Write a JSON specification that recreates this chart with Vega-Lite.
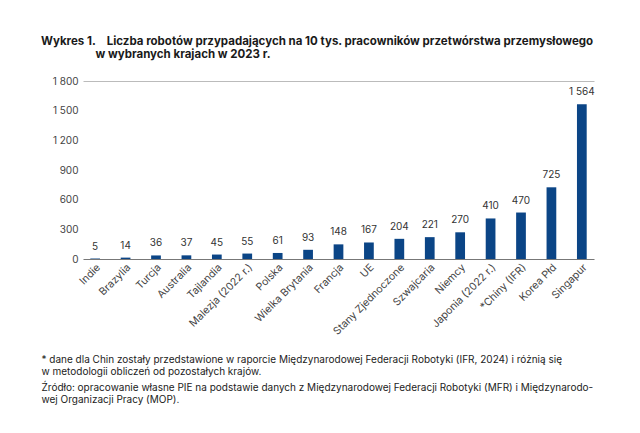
{
  "$schema": "https://vega.github.io/schema/vega-lite/v6.json",
  "autosize": "none",
  "width": 511,
  "height": 178,
  "padding": {"left": 83, "top": 81, "right": 46, "bottom": 174},
  "background": "white",
  "config": {
    "view": {"stroke": null},
    "font": "Inter",
    "locale": {"number": {"decimal": ",", "thousands": " ", "grouping": [3], "currency": ["", " zł"]}}
  },
  "title": {
    "text": [
      "Wykres 1.\u00a0\u00a0\u00a0\u00a0Liczba robotów przypadających na 10 tys. pracowników przetwórstwa przemysłowego",
      "\u200b\u00a0\u00a0\u00a0\u00a0\u00a0\u00a0\u00a0\u00a0\u00a0\u00a0\u00a0\u00a0\u00a0\u00a0\u00a0\u00a0\u00a0\u00a0\u00a0\u00a0w wybranych krajach w 2023 r."
    ],
    "anchor": "start",
    "frame": "group",
    "dx": -42,
    "offset": 16,
    "fontSize": 11.5,
    "fontWeight": "bold",
    "color": "#1a1a1a",
    "lineHeight": 13
  },
  "data": {
    "values": [
      {"kraj": "Indie", "wartosc": 5},
      {"kraj": "Brazylia", "wartosc": 14},
      {"kraj": "Turcja", "wartosc": 36},
      {"kraj": "Australia", "wartosc": 37},
      {"kraj": "Tajlandia", "wartosc": 45},
      {"kraj": "Malezja (2022 r.)", "wartosc": 55},
      {"kraj": "Polska", "wartosc": 61},
      {"kraj": "Wielka Brytania", "wartosc": 93},
      {"kraj": "Francja", "wartosc": 148},
      {"kraj": "UE", "wartosc": 167},
      {"kraj": "Stany Zjednoczone", "wartosc": 204},
      {"kraj": "Szwajcaria", "wartosc": 221},
      {"kraj": "Niemcy", "wartosc": 270},
      {"kraj": "Japonia (2022 r.)", "wartosc": 410},
      {"kraj": "*Chiny (IFR)", "wartosc": 470},
      {"kraj": "Korea Płd", "wartosc": 725},
      {"kraj": "Singapur", "wartosc": 1564}
    ]
  },
  "encoding": {
    "x": {
      "field": "kraj",
      "type": "nominal",
      "sort": null,
      "scale": {"paddingInner": 0.68, "paddingOuter": 0.24},
      "axis": {
        "labelAngle": -45,
        "labelFontSize": 10.5,
        "labelColor": "#444",
        "labelPadding": 3,
        "ticks": false,
        "domainColor": "#777",
        "domainWidth": 1.2,
        "title": [
          "* dane dla Chin zostały przedstawione w raporcie Międzynarodowej Federacji Robotyki (IFR, 2024) i różnią się",
          "w metodologii obliczeń od pozostałych krajów."
        ],
        "titleFontSize": 10,
        "titleFontWeight": "normal",
        "titleColor": "#222",
        "titleAnchor": "start",
        "titleAlign": "left",
        "titleBaseline": "top",
        "titleX": -42,
        "titleY": 95,
        "titleLineHeight": 12
      }
    },
    "y": {
      "field": "wartosc",
      "type": "quantitative",
      "scale": {"domain": [0, 1800], "nice": false},
      "axis": {
        "values": [0, 300, 600, 900, 1200, 1500, 1800],
        "format": ",d",
        "domain": false,
        "ticks": false,
        "labelFontSize": 10,
        "labelColor": "#444",
        "labelPadding": 5,
        "grid": true,
        "gridColor": {"condition": {"test": "datum.value === 1800", "value": "#bbbbbb"}, "value": "transparent"},
        "gridWidth": 1.2,
        "title": [
          "Źródło: opracowanie własne PIE na podstawie danych z Międzynarodowej Federacji Robotyki (MFR) i Międzynarodo-",
          "wej Organizacji Pracy (MOP)."
        ],
        "titleAngle": 0,
        "titleFontSize": 10,
        "titleFontWeight": "normal",
        "titleColor": "#222",
        "titleAnchor": "start",
        "titleAlign": "left",
        "titleBaseline": "top",
        "titleX": -42,
        "titleY": 301,
        "titleLineHeight": 12
      }
    }
  },
  "layer": [
    {"mark": {"type": "bar", "color": "#0b4586"}},
    {
      "mark": {"type": "text", "dy": -7, "fontSize": 10, "color": "#333", "baseline": "bottom"},
      "encoding": {"text": {"field": "wartosc", "type": "quantitative", "format": ",d"}}
    }
  ]
}
